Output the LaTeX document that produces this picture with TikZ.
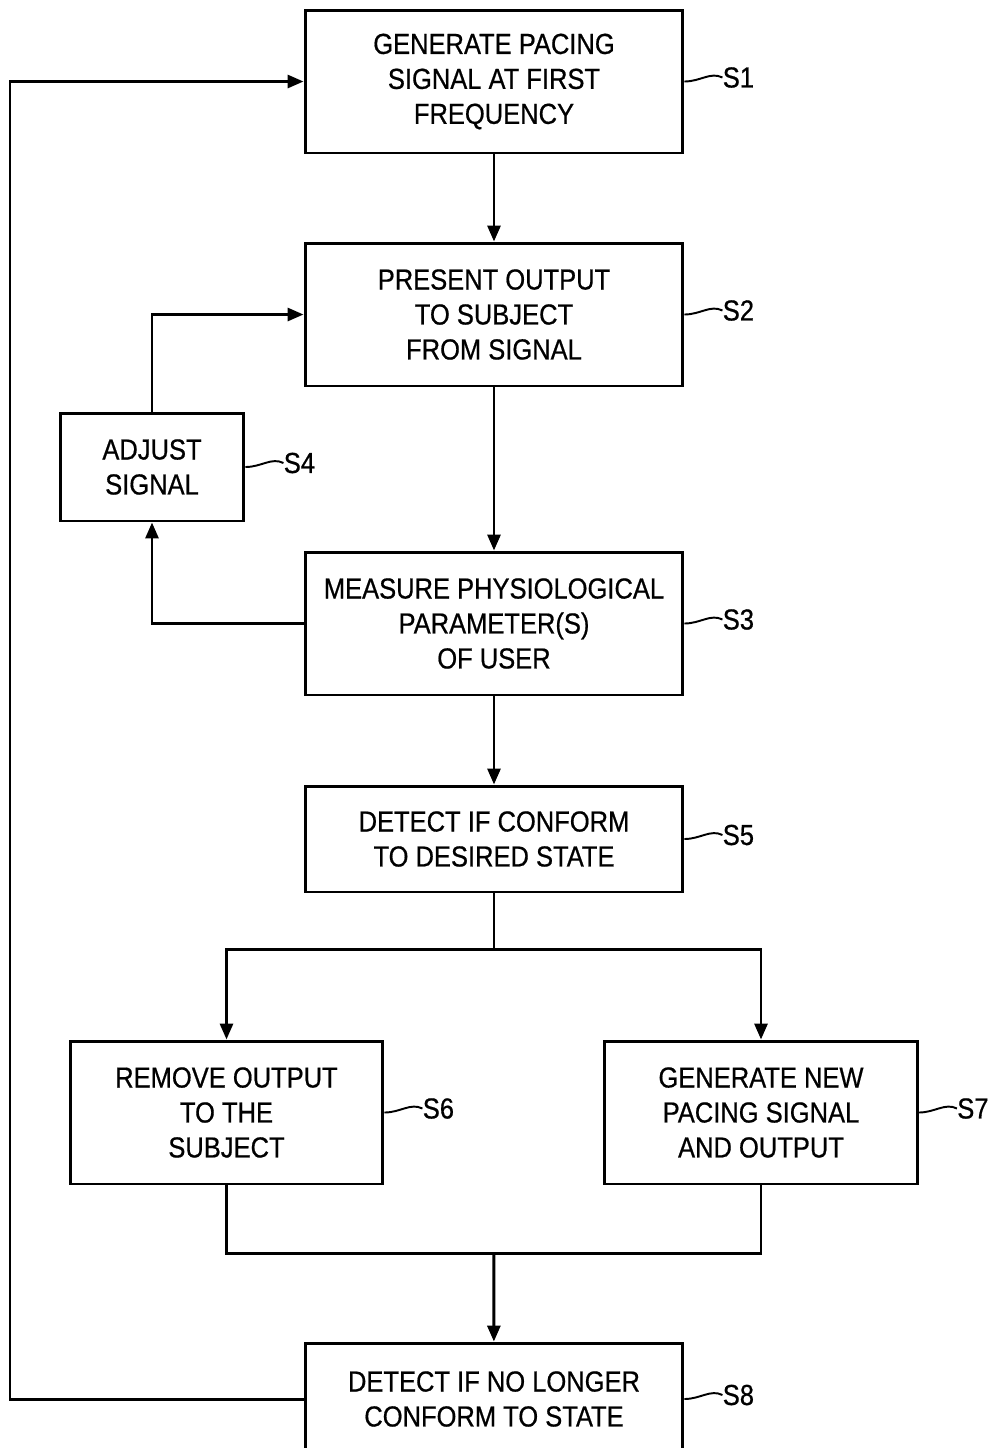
\documentclass[tikz,border=0pt]{standalone}
\usepackage{fontspec}
\setmainfont[FakeStretch=0.88,FakeBold=0.6]{Liberation Sans}
\usetikzlibrary{arrows.meta,positioning,calc}

\begin{document}
\begin{tikzpicture}[x=0.02cm,y=-0.02cm,
  every node/.style={font=\fontsize{16.5}{19.9}\selectfont},
  stepbox/.style={draw,line width=1.7pt,align=center,inner sep=0pt,minimum width=7.56cm,minimum height=2.86cm},
  flow/.style={line width=1.7pt,-{Triangle[length=0.32cm,width=0.26cm]}},
  link/.style={line width=1.7pt},
  tag/.style={anchor=west,inner sep=0pt},
  squig/.style={line width=1.1pt}]
  \useasboundingbox (0,0) rectangle (991,1448);
  % boxes
  \node[stepbox] (s1) at (494,81.5) {GENERATE PACING\\SIGNAL AT FIRST\\FREQUENCY};
  \node[stepbox] (s2) at (494,314.5) {PRESENT OUTPUT\\TO SUBJECT\\FROM SIGNAL};
  \node[stepbox,minimum width=3.68cm,minimum height=2.16cm] (s4) at (152,467) {ADJUST\\SIGNAL};
  \node[stepbox] (s3) at (494,623.5) {MEASURE PHYSIOLOGICAL\\PARAMETER(S)\\OF USER};
  \node[stepbox,minimum height=2.12cm] (s5) at (494,839) {DETECT IF CONFORM\\TO DESIRED STATE};
  \node[stepbox,minimum width=6.26cm] (s6) at (226.5,1112.5) {REMOVE OUTPUT\\TO THE\\SUBJECT};
  \node[stepbox,minimum width=6.26cm] (s7) at (761,1112.5) {GENERATE NEW\\PACING SIGNAL\\AND OUTPUT};
  \node[stepbox,minimum height=2.24cm] (s8) at (494,1399) {DETECT IF NO LONGER\\CONFORM TO STATE};
  % step labels
  \foreach \n/\t in {s1/S1,s2/S2,s3/S3,s4/S4,s5/S5,s6/S6,s7/S7,s8/S8} {
    \node[tag] (l\n) at ($(\n.east)+(38,-4)$) {\t};
    \draw[squig] (\n.east) .. controls +(16,0) and +(-12,-6) .. (l\n.west);
  }
  % connectors
  \draw[flow] (s1) -- (s2);
  \draw[flow] (s2) -- (s3);
  \draw[flow] (s3.west) -| (s4.south);
  \draw[flow] (s4.north) |- (s2.west);
  \draw[flow] (s3) -- (s5);
  \coordinate (split) at ($(s5.south)+(0,56)$);
  \draw[link] (s5.south) -- (split);
  \draw[flow] (split) -| (s6.north);
  \draw[flow] (split) -| (s7.north);
  \coordinate (merge) at ($(s6.south)!0.5!(s7.south)+(0,68)$);
  \draw[link] (s6.south) |- (merge) -| (s7.south);
  \draw[flow] (merge) -- (s8);
  \coordinate (loop) at (10,0);
  \draw[flow] (s8.west) -- (s8.west -| loop) |- (s1.west);
\end{tikzpicture}
\end{document}
